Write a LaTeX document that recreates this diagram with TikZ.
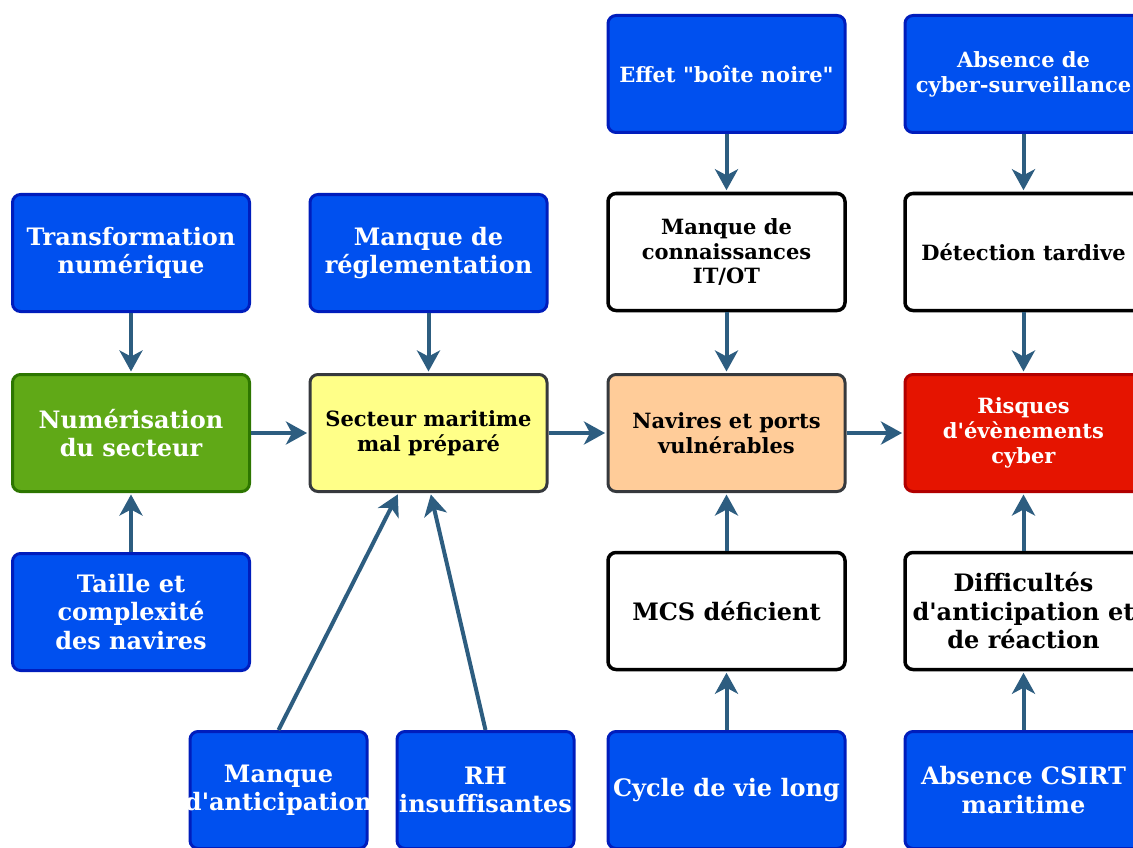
\documentclass[tikz,border=0pt]{standalone}
\usepackage{fontspec}
\setmainfont{DejaVu Serif}[Ligatures=TeXOff]
\usetikzlibrary{arrows.meta}

\definecolor{bluefill}{HTML}{0050EF}
\definecolor{bluedraw}{HTML}{001DBC}
\definecolor{greenfill}{HTML}{60A917}
\definecolor{greendraw}{HTML}{2D7600}
\definecolor{yellowfill}{HTML}{FFFF88}
\definecolor{orangefill}{HTML}{FFCC99}
\definecolor{greydraw}{HTML}{36393D}
\definecolor{redfill}{HTML}{E51400}
\definecolor{reddraw}{HTML}{B20000}
\definecolor{arrowcol}{HTML}{2D5D80}

\begin{document}
\begin{tikzpicture}[x=1pt, y=-1pt,
  box/.style={rectangle, rounded corners=8pt, line width=3pt,
    minimum width=237pt, minimum height=117pt, inner sep=0pt, align=center,
    font=\bfseries\fontsize{24}{28.5}\selectfont},
  narrow/.style={minimum width=177pt},
  smalltext/.style={font=\bfseries\fontsize{21}{24.8}\selectfont},
  bluebox/.style={box, fill=bluefill, draw=bluedraw, text=white},
  greenbox/.style={box, fill=greenfill, draw=greendraw, text=white},
  yellowbox/.style={box, fill=yellowfill, draw=greydraw, text=black},
  orangebox/.style={box, fill=orangefill, draw=greydraw, text=black},
  redbox/.style={box, fill=redfill, draw=reddraw, text=white},
  whitebox/.style={box, fill=white, draw=black, line width=3.5pt, text=black},
  arr/.style={draw=arrowcol, line width=4pt, shorten >=1.5pt,
    -{Stealth[length=21pt, width=23pt, inset=6pt]}}
]
\useasboundingbox (0,0) rectangle (1133,848);

% column 1
\node[bluebox] (tn) at (131,253) {Transformation\\numérique};
\node[greenbox] (num) at (131,433) {Numérisation\\du secteur};
\node[bluebox] (taille) at (131,612) {Taille et\\complexité\\des navires};

% column 2
\node[bluebox] (regl) at (428.5,253) {Manque de\\réglementation};
\node[yellowbox, smalltext] (sect) at (428.5,433) {Secteur maritime\\mal préparé};
\node[bluebox, narrow] (mant) at (278.5,790) {Manque\\\makebox[170pt]{d'anticipation}};
\node[bluebox, narrow] (rh) at (485.5,790) {RH\\insuffisantes};

% column 3
\node[bluebox, smalltext] (effet) at (726.5,74) {Effet "boîte noire"};
\node[whitebox, smalltext] (conn) at (726.5,252) {Manque de\\connaissances\\IT/OT};
\node[orangebox, smalltext] (nav) at (726.5,433) {Navires et ports\\vulnérables};
\node[whitebox] (mcs) at (726.5,611) {MCS déficient};
\node[bluebox] (cycle) at (726.5,790) {Cycle de vie long};

% column 4
\node[bluebox, smalltext] (abs) at (1023.5,74) {Absence de\\cyber-surveillance};
\node[whitebox, smalltext] (det) at (1023.5,252) {Détection tardive};
\node[redbox, smalltext] (risk) at (1023.5,433) {Risques\\d'évènements\\cyber};
\node[whitebox] (diff) at (1023.5,611) {Difficultés\\d'anticipation et\\de réaction};
\node[bluebox] (csirt) at (1023.5,790) {Absence CSIRT\\maritime};

% causal links
\draw[arr] (tn) -- (num);
\draw[arr] (taille) -- (num);
\draw[arr] (num) -- (sect);
\draw[arr] (regl) -- (sect);
\draw[arr] (mant.north) -- ([xshift=-30pt]sect.south);
\draw[arr] (rh.north) -- ([xshift=2pt]sect.south);
\draw[arr] (sect) -- (nav);
\draw[arr] (effet) -- (conn);
\draw[arr] (conn) -- (nav);
\draw[arr] (mcs) -- (nav);
\draw[arr] (cycle) -- (mcs);
\draw[arr] (nav) -- (risk);
\draw[arr] (abs) -- (det);
\draw[arr] (det) -- (risk);
\draw[arr] (diff) -- (risk);
\draw[arr] (csirt) -- (diff);
\end{tikzpicture}
\end{document}
